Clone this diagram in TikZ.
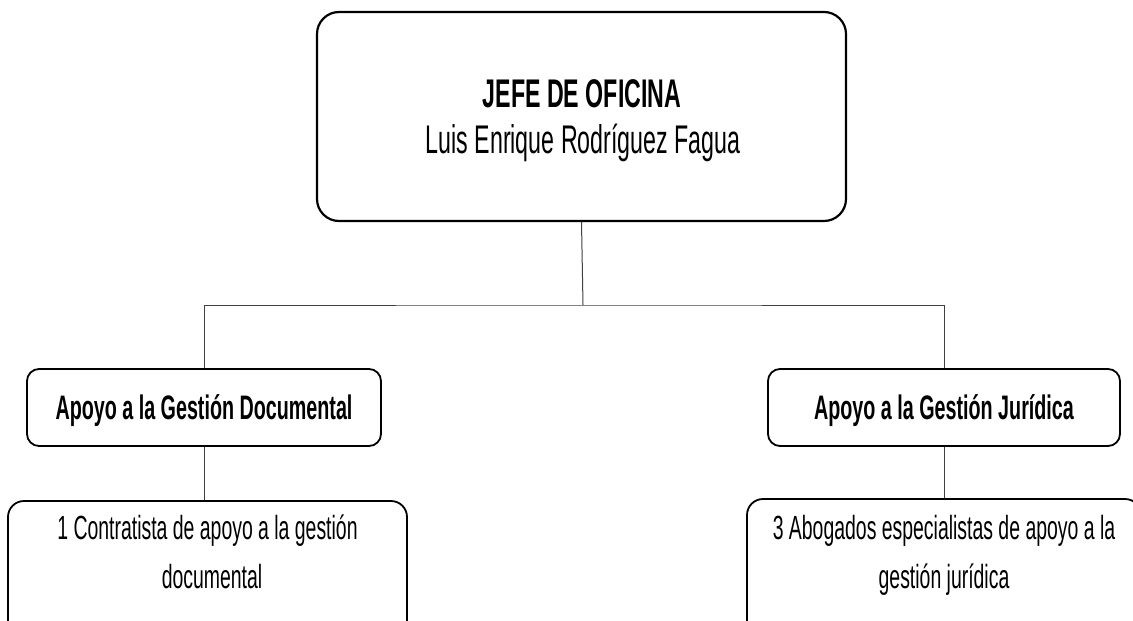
\documentclass[tikz,border=0pt]{standalone}
\usepackage{fontspec}
\setmainfont{Liberation Sans}[FakeStretch=0.58]
\begin{document}
\begin{tikzpicture}[x=1pt,y=-1pt,
  box/.style={draw=black, line width=1.8pt, fill=white, inner sep=0pt},
  conn/.style={draw=black!75, line width=1pt},
  txt/.style={inner sep=0pt, align=center, text=black, anchor=base}]
\useasboundingbox (0,0) rectangle (1133,621);
\clip (0,0) rectangle (1133,621);
\fill[white] (0,0) rectangle (1133,621);
% top box
\node[box, rounded corners=22pt, line width=2.2pt, minimum width=529pt, minimum height=209pt]
  (jefe) at (581.5,116.5) {};
\node[txt] (jefeA) at (582,107) {\fontsize{40}{48}\selectfont\bfseries JEFE DE OFICINA};
\node[txt] (jefeB) at (583,153) {\fontsize{40}{48}\selectfont Luis Enrique Rodríguez Fagua};
% middle boxes
\node[box, rounded corners=12pt, minimum width=354pt, minimum height=77pt]
  (doc) at (204,407.5) {};
\node[txt] (docT) at (204,419) {\fontsize{34}{40}\selectfont\bfseries Apoyo a la Gestión Documental};
\node[box, rounded corners=12pt, minimum width=352pt, minimum height=77pt]
  (jur) at (944,407.5) {};
\node[txt] (jurT) at (944,419) {\fontsize{34}{40}\selectfont\bfseries Apoyo a la Gestión Jurídica};
% bottom boxes
\node[box, rounded corners=16pt, minimum width=399pt, minimum height=140pt]
  (cont) at (207.5,571) {};
\node[box, rounded corners=16pt, minimum width=394pt, minimum height=142pt]
  (abog) at (944,570) {};
\node[txt] (contA) at (207.5,539) {\fontsize{33.5}{40}\selectfont 1 Contratista de apoyo a la gestión};
\node[txt] (contB) at (212,588) {\fontsize{33.5}{40}\selectfont documental};
\node[txt] (abogA) at (944,539) {\fontsize{33.5}{40}\selectfont 3 Abogados especialistas de apoyo a la};
\node[txt] (abogB) at (944,588) {\fontsize{33.5}{40}\selectfont gestión jurídica};
% connectors
\coordinate (bus) at (583,305);
\draw[conn] (jefe.south) -- (bus);
\draw[conn] (doc.north) |- (bus) -| (jur.north);
\draw[conn] (doc.south) -- (doc.south |- cont.north);
\draw[conn] (jur.south) -- (jur.south |- abog.north);
\end{tikzpicture}
\end{document}
